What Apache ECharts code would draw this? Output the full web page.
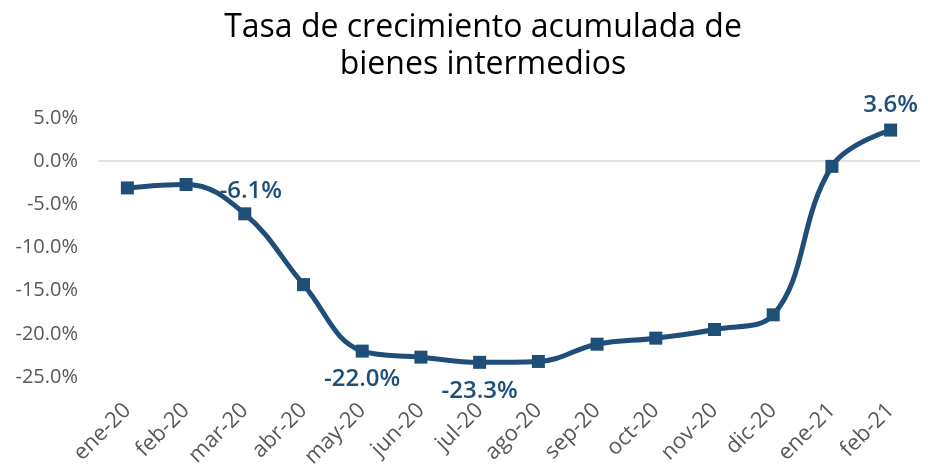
<!DOCTYPE html>
<html>
<head>
    <meta charset="utf-8">
    <script src="https://cdn.jsdelivr.net/npm/echarts@6/dist/echarts.min.js"></script>
</head>
<body style="margin:0">
<div id="main" style="width: 928px; height: 467px"></div>
<script type="text/javascript">
    var months = ['ene-20', 'feb-20', 'mar-20', 'abr-20', 'may-20', 'jun-20', 'jul-20',
        'ago-20', 'sep-20', 'oct-20', 'nov-20', 'dic-20', 'ene-21', 'feb-21'];
    var growth = [-3.1, -2.7, -6.1, -14.3, -22.0, -22.7, -23.3, -23.2, -21.2, -20.5, -19.5, -17.8, -0.6, 3.6];
    // which points carry a label, and where
    var labelled = { 2: 'top', 4: 'bottom', 6: 'bottom', 13: 'top' };

    var myChart = echarts.init(document.getElementById('main'));
    var blue = '#1f4e79';

    option = {
        animation: false,
        textStyle: { fontFamily: 'Open Sans' },
        title: {
            text: 'Tasa de crecimiento acumulada de\nbienes intermedios',
            left: 478,
            top: 4,
            textAlign: 'center',
            textStyle: { fontSize: 32, fontWeight: 'normal', color: '#000', lineHeight: 37, fontFamily: 'Open Sans' }
        },
        grid: { left: 98, right: 8, top: 118, bottom: 90, containLabel: false, outerBoundsMode: 'none' },
        xAxis: {
            type: 'category',
            data: months,
            axisLine: { show: false },
            axisTick: { show: false },
            axisLabel: { rotate: 45, color: '#595959', fontSize: 22, margin: 30, interval: 0 }
        },
        yAxis: {
            type: 'value',
            min: -25, max: 5, interval: 5,
            splitLine: { show: false },
            axisLabel: {
                color: '#595959', fontSize: 20, margin: 20,
                formatter: function (v) { return v.toFixed(1) + '%'; }
            }
        },
        series: [{
            type: 'line',
            smooth: 0.4,
            symbol: 'rect',
            symbolSize: 13,
            lineStyle: { color: blue, width: 5 },
            itemStyle: { color: blue },
            data: growth.map(function (v, i) {
                var d = { value: v };
                if (labelled[i]) {
                    d.label = {
                        show: true,
                        position: labelled[i],
                        offset: i === 2 ? [6, 2] : (labelled[i] === 'bottom' ? [0, 4] : [0, 0]),
                        distance: 6,
                        color: blue,
                        fontSize: 24,
                        fontWeight: 600,
                        formatter: function (p) { return p.value.toFixed(1) + '%'; }
                    };
                }
                return d;
            }),
            markLine: {
                silent: true,
                symbol: 'none',
                label: { show: false },
                lineStyle: { color: '#d9d9d9', width: 1.5, type: 'solid' },
                data: [{ yAxis: 0 }],
                z: 1
            }
        }]
    };

    myChart.setOption(option);
</script>
</body>
</html>
